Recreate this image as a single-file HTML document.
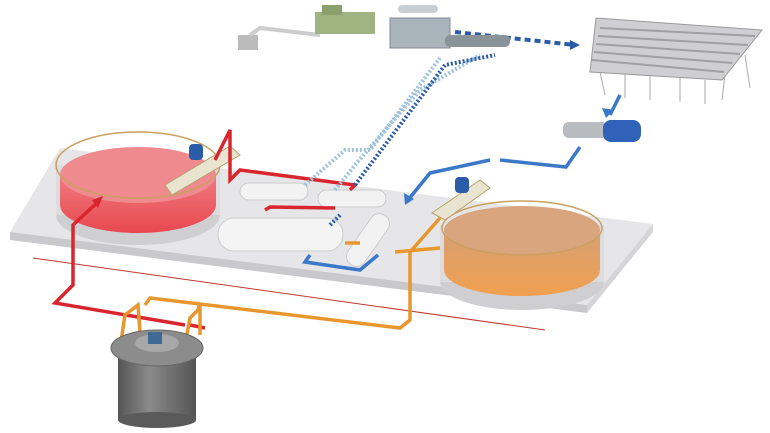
<!DOCTYPE html>
<html><head><meta charset="utf-8"><style>html,body{margin:0;padding:0;background:#fff;width:770px;height:433px;overflow:hidden}</style></head>
<body>
<svg width="770" height="433" viewBox="0 0 770 433" xmlns="http://www.w3.org/2000/svg">
<defs>
<linearGradient id="red" x1="0" y1="0" x2="0" y2="1"><stop offset="0" stop-color="#f07a80"/><stop offset="1" stop-color="#e8484f"/></linearGradient>
<linearGradient id="org" x1="0" y1="0" x2="0" y2="1"><stop offset="0" stop-color="#d9a070"/><stop offset="1" stop-color="#f0a050"/></linearGradient>
<linearGradient id="steel" x1="0" y1="0" x2="1" y2="0"><stop offset="0" stop-color="#555"/><stop offset="0.4" stop-color="#8a8a8a"/><stop offset="1" stop-color="#555"/></linearGradient>
</defs>
<polygon points="10,232 60,148 653,224 587,305" fill="#e6e6e8"/>
<polygon points="10,232 587,305 587,313 10,240" fill="#c9c9cc"/>
<polygon points="587,305 653,224 653,232 587,313" fill="#d5d5d8"/>
<line x1="33" y1="258" x2="545" y2="330" stroke="#c0392b" stroke-width="1"/>
<!-- red tank -->
<ellipse cx="138" cy="215" rx="82" ry="30" fill="#cfcfd2"/>
<rect x="56" y="165" width="164" height="50" fill="#dcdcde"/>
<path d="M60,175 L60,205 A78,28 0 0 0 216,205 L216,175 Z" fill="url(#red)"/>
<ellipse cx="138" cy="175" rx="78" ry="28" fill="#ef8a8f"/>
<ellipse cx="138" cy="165" rx="82" ry="33" fill="none" stroke="#c9a060" stroke-width="1.5"/>
<polygon points="165,185 230,146 240,155 172,195" fill="#e9e4d0" stroke="#b5a070"/>
<rect x="189" y="144" width="14" height="16" rx="4" fill="#2a5ca8"/>
<!-- orange tank -->
<ellipse cx="522" cy="282" rx="82" ry="28" fill="#cfcfd2"/>
<rect x="440" y="225" width="164" height="57" fill="#dcdcde"/>
<path d="M444,235 L444,270 A78,26 0 0 0 600,270 L600,235 Z" fill="url(#org)"/>
<ellipse cx="522" cy="230" rx="78" ry="24" fill="#d9a57e"/>
<ellipse cx="522" cy="228" rx="80" ry="27" fill="none" stroke="#c9a060" stroke-width="1.5"/>
<polygon points="432,213 480,180 490,188 445,220" fill="#e9e4d0" stroke="#b5a070"/>
<rect x="455" y="177" width="14" height="16" rx="4" fill="#2a5ca8"/>
<!-- vessels -->
<rect x="240" y="183" width="68" height="17" rx="8.5" fill="#f2f2f2" stroke="#ccc"/>
<rect x="318" y="190" width="68" height="17" rx="8.5" fill="#f2f2f2" stroke="#ccc"/>
<rect x="218" y="218" width="125" height="33" rx="16" fill="#f4f4f4" stroke="#ccc"/>
<rect x="358" y="210" width="20" height="60" rx="10" fill="#f2f2f2" stroke="#ccc" transform="rotate(35 368 240)"/>
<!-- red pipes -->
<g fill="none" stroke="#d9262e" stroke-width="3.5">
<polyline points="100,200 73,225 73,285 55,303 185,325"/>
<polyline points="190,325 205,328"/>
<polyline points="215,160 225,140 230,130 230,180 240,170 355,185 350,190"/>
<polyline points="335,208 270,207 265,210"/>
</g>
<polygon points="103,196 92,200 98,208" fill="#d9262e"/>
<g fill="none" stroke-width="4">
<polyline points="305,185 345,150 370,150 440,58" stroke="#9cc2dc" stroke-dasharray="2,2"/>
<polyline points="335,190 355,165 420,90 480,55" stroke="#9cc2dc" stroke-dasharray="2,2"/>
<polyline points="355,185 445,65 495,55" stroke="#2a5ca8" stroke-dasharray="2,2"/>
<polyline points="340,215 330,225" stroke="#2a5ca8" stroke-dasharray="2,2"/>
<polyline points="455,32 575,45" stroke="#2a5ca8" stroke-dasharray="6,4"/>
</g>
<polygon points="580,45 570,40 570,50" fill="#2a5ca8"/>
<g fill="none" stroke="#3a78c8" stroke-width="3.5">
<polyline points="620,95 610,115"/>
<polyline points="580,147 566,167 500,160"/>
<polyline points="490,160 430,173 408,200"/>
<polyline points="310,255 305,262 360,270 378,255"/>
</g>
<polygon points="405,205 404,193 414,199" fill="#3a78c8"/>
<polygon points="606,118 602,108 614,110" fill="#3a78c8"/>
<g fill="none" stroke="#e8962e" stroke-width="3.5">
<polyline points="440,218 410,252 410,320 400,328 150,298 145,305"/>
<polyline points="200,303 198,310"/>
<polyline points="345,243 360,243"/>
<polyline points="395,252 440,248"/>
<path d="M120,348 L125,315 L138,305 L140,332"/>
<path d="M185,345 L190,318 L200,308 L200,335"/>
</g>
<!-- reactor -->
<rect x="118" y="352" width="78" height="68" fill="url(#steel)"/>
<ellipse cx="157" cy="420" rx="39" ry="8" fill="#5a5a5a"/>
<ellipse cx="157" cy="348" rx="46" ry="18" fill="#8c8c8c" stroke="#666"/>
<ellipse cx="157" cy="343" rx="22" ry="9" fill="#a8a8a8"/>
<rect x="148" y="332" width="14" height="12" fill="#3f6a94"/>
<!-- turbine hall -->
<rect x="238" y="35" width="20" height="15" fill="#bbb"/>
<polyline points="250,35 260,28 320,35" fill="none" stroke="#ccc" stroke-width="4"/>
<rect x="315" y="12" width="60" height="22" fill="#9fb481"/>
<rect x="322" y="5" width="20" height="10" fill="#8ca06d"/>
<rect x="390" y="18" width="60" height="30" fill="#aab5bb" stroke="#889"/>
<rect x="398" y="5" width="40" height="8" rx="4" fill="#c8ced2"/>
<rect x="445" y="35" width="65" height="12" rx="5" fill="#8a9498"/>
<!-- cooling tower -->
<g stroke="#aaa" stroke-width="1"><line x1="600" y1="72" x2="605" y2="95"/><line x1="625" y1="74" x2="625" y2="98"/><line x1="650" y1="76" x2="650" y2="100"/><line x1="680" y1="78" x2="680" y2="102"/><line x1="705" y1="80" x2="705" y2="104"/><line x1="725" y1="75" x2="722" y2="100"/><line x1="745" y1="55" x2="750" y2="88"/></g>
<polygon points="596,18 762,30 722,80 590,72" fill="#cfcfd2" stroke="#999"/>
<g stroke="#a0a0a4" stroke-width="2">
<line x1="600" y1="28" x2="755" y2="36"/><line x1="598" y1="36" x2="748" y2="45"/><line x1="596" y1="44" x2="740" y2="54"/><line x1="594" y1="52" x2="732" y2="63"/><line x1="592" y1="60" x2="724" y2="72"/>
</g>
<rect x="563" y="122" width="45" height="16" rx="6" fill="#b8bcc0"/>
<rect x="603" y="120" width="38" height="22" rx="8" fill="#2f62b8"/>
</svg>
</body></html>
